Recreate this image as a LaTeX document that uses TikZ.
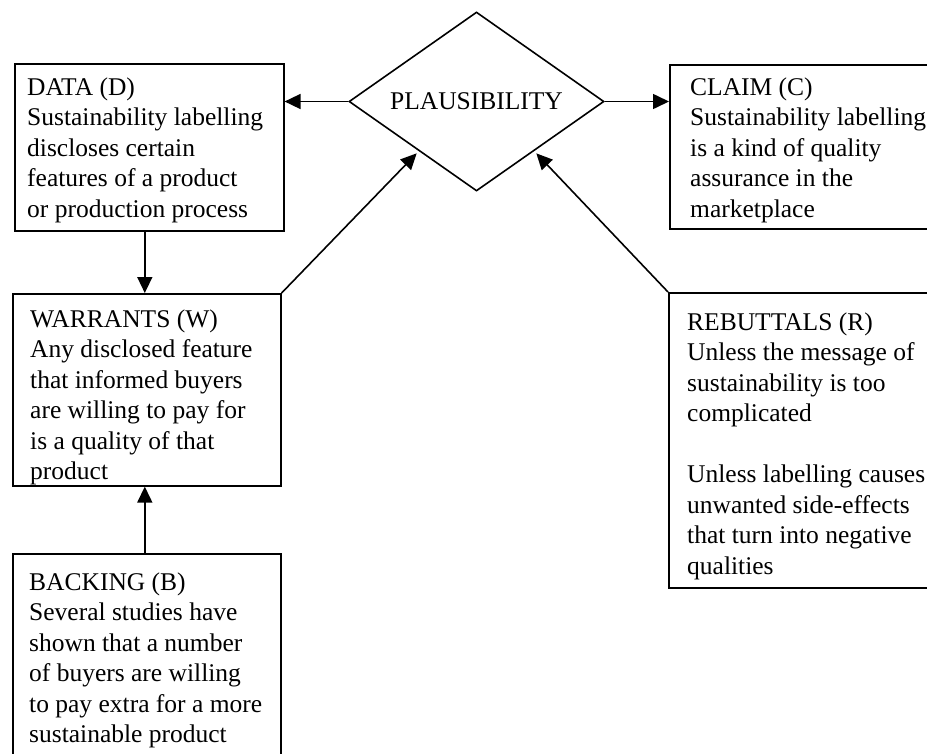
\documentclass[tikz,border=0pt]{standalone}
\usepackage{fontspec}
\setmainfont{Liberation Serif}
\usetikzlibrary{shapes.geometric,arrows.meta,calc}
\tikzset{
  box/.style={draw=black, line width=1.6pt, rectangle, inner sep=0pt, anchor=north west},
  txt/.style={inner sep=0pt, anchor=base west, font=\fontsize{25.5}{30.5}\selectfont},
  conn/.style={line width=1.6pt, -{Triangle[length=16pt,width=15pt]}},
}
\newcommand{\boxtext}[1]{\parbox[t]{320pt}{\raggedright #1}}
\begin{document}
\begin{tikzpicture}[x=1pt,y=-1pt]
\useasboundingbox (0,0) rectangle (927,753);
\clip (0,0) rectangle (927,753);
% diamond
\node[diamond, draw=black, line width=1.6pt, inner sep=0pt, aspect=1.42,
      minimum width=255pt, minimum height=179pt,
      font=\fontsize{25.5}{30.5}\selectfont] (plaus) at (476.5,101.5) {PLAUSIBILITY};
% boxes
\node[box, minimum width=269pt, minimum height=167pt] (data) at (14,63) {};
\node[box, minimum width=280pt, minimum height=164pt] (claim) at (669,64) {};
\node[box, minimum width=268pt, minimum height=192pt] (warr) at (12,293) {};
\node[box, minimum width=280pt, minimum height=295pt] (rebut) at (668,292) {};
\node[box, minimum width=268pt, minimum height=230pt] (back) at (12,553) {};
% texts
\node[txt] (datat) at (27,95) {\boxtext{DATA (D)\\Sustainability labelling\\discloses certain\\features of a product\\or production process}};
\node[txt] (claimt) at (690,95) {\boxtext{CLAIM (C)\\Sustainability labelling\\is a kind of quality\\assurance in the\\marketplace}};
\node[txt] (warrt) at (30,327) {\boxtext{WARRANTS (W)\\Any disclosed feature\\that informed buyers\\are willing to pay for\\is a quality of that\\product}};
\node[txt] (rebutt) at (687,330) {\boxtext{REBUTTALS (R)\\Unless the message of\\sustainability is too\\complicated\\[30.5pt]Unless labelling causes\\unwanted side-effects\\that turn into negative\\qualities}};
\node[txt] (backt) at (29,590) {\boxtext{BACKING (B)\\Several studies have\\shown that a number\\of buyers are willing\\to pay extra for a more\\sustainable product}};
% connectors
\draw[conn] (plaus.west) -- (plaus.west -| data.east);
\draw[conn] (plaus.east) -- (plaus.east -| claim.west);
\draw[conn] ([xshift=-4.5pt]data.south) -- ([xshift=-4.5pt]data.south |- warr.north);
\draw[conn] ([xshift=-2pt]back.north) -- ([xshift=-2pt]warr.south);
\draw[conn, shorten >=3pt] (warr.north east) -- ($(plaus.west)!0.55!(plaus.south)$);
\draw[conn, shorten >=3pt] (rebut.north west) -- ($(plaus.east)!0.55!(plaus.south)$);
\end{tikzpicture}
\end{document}
